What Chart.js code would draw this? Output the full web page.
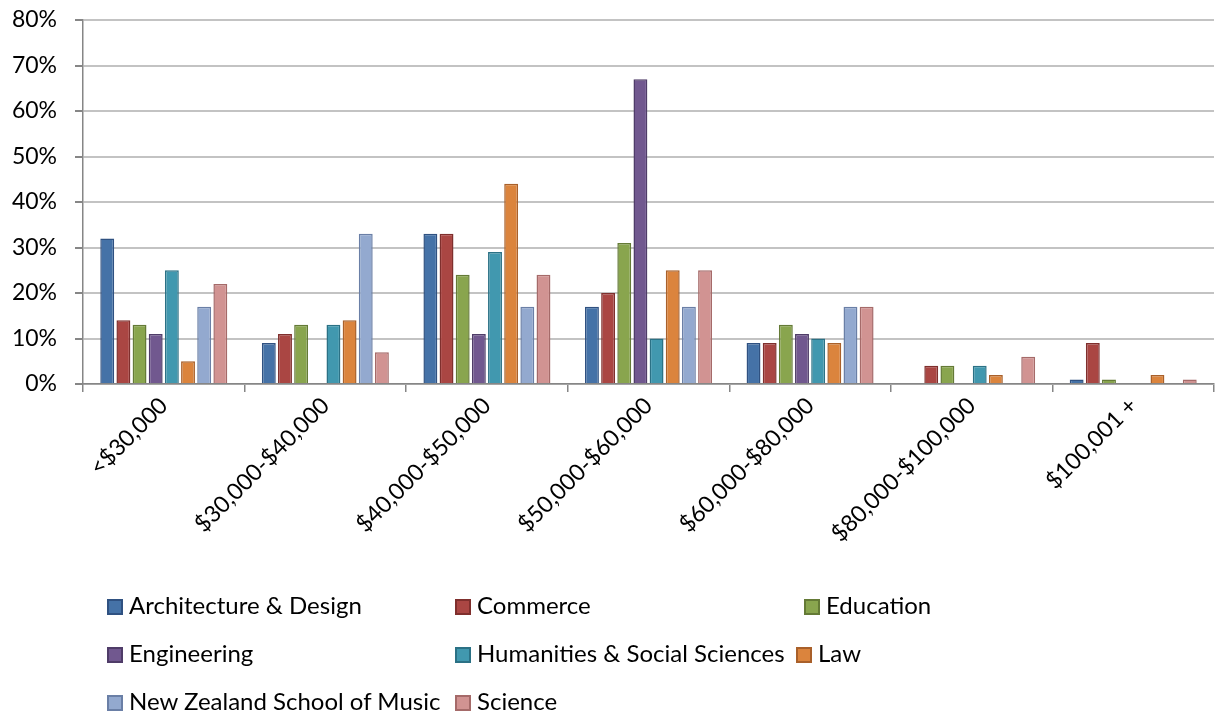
<!DOCTYPE html>
<html>
<head>
<meta charset="utf-8">
<script src="https://cdn.jsdelivr.net/npm/chart.js@4/dist/chart.umd.min.js"></script>
<style>
  html, body { margin: 0; padding: 0; background: #fff; }
  #wrap { position: relative; width: 1216px; height: 717px; }
  #legend { position: absolute; left: 0; top: 0; width: 1216px; height: 717px; pointer-events: none;
            font-family: Lato, "Liberation Sans", sans-serif; font-size: 24px; color: #000; }
  .item { position: absolute; white-space: nowrap; line-height: 24px; }
  .item i { display: inline-block; width: 12px; height: 12px; border: 2px solid; margin-right: 6px; vertical-align: -1px; }
</style>
</head>
<body>
<div id="wrap">
  <canvas id="chart" width="1216" height="717"></canvas>
  <div id="legend"></div>
</div>
<script>
// salary bands and share of graduates per faculty (%)
var bands = ["<$30,000", "$30,000-$40,000", "$40,000-$50,000", "$50,000-$60,000", "$60,000-$80,000", "$80,000-$100,000", "$100,001 +"];
var faculties = ["Architecture & Design", "Commerce", "Education", "Engineering", "Humanities & Social Sciences", "Law", "New Zealand School of Music", "Science"];

var architecture = [32, 9, 33, 17, 9, 0, 1];
var commerce     = [14, 11, 33, 20, 9, 4, 9];
var education    = [13, 13, 24, 31, 13, 4, 1];
var engineering  = [11, 0, 11, 67, 11, 0, 0];
var humanities   = [25, 13, 29, 10, 10, 4, 0];
var law          = [5, 14, 44, 25, 9, 2, 2];
var music        = [17, 33, 17, 17, 17, 0, 0];
var science      = [22, 7, 24, 25, 17, 6, 1];

var yTicks = [0, 10, 20, 30, 40, 50, 60, 70, 80];

var fills   = ["#4572A7", "#AA4643", "#89A54E", "#71588F", "#4198AF", "#DB843D", "#93A9CF", "#D19392"];
var borders = ["#2f5181", "#7f2f2d", "#647a36", "#4f3c68", "#2b7185", "#a9602a", "#6a7fa6", "#a56a69"];
var series  = [architecture, commerce, education, engineering, humanities, law, music, science];

var datasets = faculties.map(function (name, i) {
  return {
    label: name,
    data: series[i],
    backgroundColor: fills[i],
    borderColor: borders[i],
    borderWidth: 1.5,
    barPercentage: 0.86,
    categoryPercentage: 0.8
  };
});

var font = { family: "Lato, 'Liberation Sans', sans-serif", size: 23 };

new Chart(document.getElementById("chart"), {
  type: "bar",
  data: { labels: bands, datasets: datasets },
  options: {
    responsive: false,
    animation: false,
    layout: { padding: { left: 0, right: 2, top: 20, bottom: 0 } },
    plugins: { legend: { display: false }, tooltip: { enabled: false } },
    scales: {
      x: {
        afterFit: function (axis) { axis.height = 333; },
        grid: { offset: true, drawOnChartArea: false, color: "#868686", lineWidth: 1.5, tickLength: 8 },
        border: { color: "#868686", width: 1.5 },
        ticks: { color: "#000", font: font, maxRotation: 45, minRotation: 45, padding: 0 }
      },
      y: {
        min: 0,
        max: 80,
        afterFit: function (axis) {
          axis.width = 83;
          axis.paddingTop = 0;
          axis.paddingBottom = 0;
        },
        afterBuildTicks: function (axis) {
          axis.ticks = yTicks.map(function (v) { return { value: v }; });
        },
        grid: { color: "#c3c3c3", lineWidth: 2, tickLength: 8, tickColor: "#868686" },
        border: { color: "#868686", width: 1.5 },
        ticks: { color: "#000", font: font, padding: 18,
                 callback: function (v) { return v + "%"; } }
      }
    }
  }
});

// legend laid out in three columns under the plot
var cols = [107, 455, 804];
var rows = [593, 641, 689];
var legend = document.getElementById("legend");
faculties.forEach(function (name, i) {
  var el = document.createElement("div");
  el.className = "item";
  var col = cols[i % 3];
  if (i === 5) col = 796;
  el.style.left = col + "px";
  el.style.top = rows[Math.floor(i / 3)] + "px";
  el.innerHTML = '<i style="background:' + fills[i] + ';border-color:' + borders[i] + '"></i>';
  el.appendChild(document.createTextNode(name));
  legend.appendChild(el);
});
</script>
</body>
</html>
